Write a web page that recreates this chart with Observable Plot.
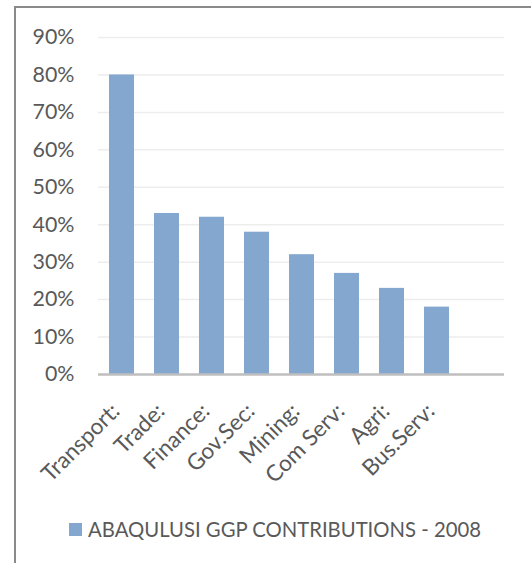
<!DOCTYPE html>
<html>
<head>
<meta charset="utf-8">
<script src="https://cdn.jsdelivr.net/npm/d3@7"></script>
<script src="https://cdn.jsdelivr.net/npm/@observablehq/plot@0.6"></script>
<style>
  html, body { margin: 0; padding: 0; background: #fff; }
  #wrap { position: relative; width: 531px; height: 563px; overflow: hidden; font-family: Lato, sans-serif; }
  #frameTop { position: absolute; left: 14px; top: 6px; width: 530px; height: 2px; background: #8a8a8a; }
  #frameLeft { position: absolute; left: 14px; top: 6px; width: 2px; height: 570px; background: #8a8a8a; }
  #chart { position: absolute; left: 0; top: 0; }
  #chart svg { overflow: visible; }
  #legend { position: absolute; left: 69px; top: 518px; display: flex; align-items: center; gap: 6px; color: #595959; font-size: 20.3px; line-height: 22px; white-space: nowrap; }
  #legend .sw { width: 13px; height: 13px; background: #84A7D0; }
</style>
</head>
<body>
<div id="wrap">
  <div id="frameTop"></div>
  <div id="frameLeft"></div>
  <div id="chart"></div>
  <div id="legend"><span class="sw"></span><span id="legendText"></span></div>
</div>
<script>
const categories = ["Transport:", "Trade:", "Finance:", "Gov.Sec:", "Mining:", "Com Serv:", "Agri:", "Bus.Serv:"];
const values = [0.80, 0.43, 0.42, 0.38, 0.32, 0.27, 0.23, 0.18];
const emptySlot = [" "];
const yTicks = [0, 0.1, 0.2, 0.3, 0.4, 0.5, 0.6, 0.7, 0.8, 0.9];
const seriesName = "ABAQULUSI GGP CONTRIBUTIONS - 2008";

const data = categories.map((c, i) => ({category: c, value: values[i]}));
const barColor = "#84A7D0";
const textColor = "#595959";

const chart = Plot.plot({
  width: 531,
  height: 500,
  marginLeft: 98,
  marginRight: 27,
  marginTop: 37,
  marginBottom: 126,
  style: {fontFamily: "Lato, sans-serif", fontSize: "20px", color: textColor, background: "transparent"},
  x: {domain: [...categories, ...emptySlot], paddingInner: 0.445, paddingOuter: 0.2225, align: 0.5},
  y: {domain: [0, 0.9]},
  marks: [
    Plot.gridY(yTicks, {stroke: "#EDEDED", strokeOpacity: 1, strokeWidth: 1.5}),
    Plot.barY(data, {x: "category", y: "value", fill: barColor}),
    Plot.ruleY([0], {stroke: "#BFBFBF", strokeWidth: 2.5}),
    Plot.axisY(yTicks, {tickSize: 0, tickPadding: 24, tickFormat: d3.format(".0%"), label: null, fill: textColor, fontSize: 21.4}),
    Plot.axisX({tickSize: 0, tickRotate: -45, tickPadding: 33, dx: -6, label: null, fill: textColor, fontSize: 22.5})
  ]
});
document.getElementById("chart").appendChild(chart);
document.getElementById("legendText").textContent = seriesName;
</script>
</body>
</html>
